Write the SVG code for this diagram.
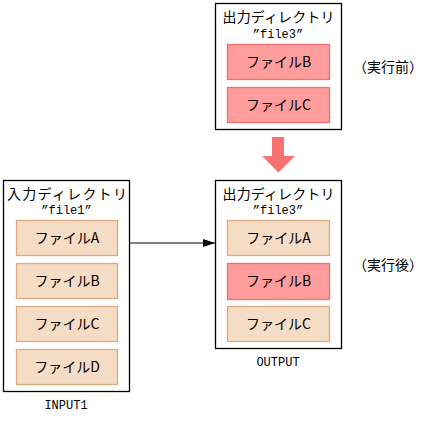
<svg xmlns="http://www.w3.org/2000/svg" width="442" height="421" viewBox="0 0 442 421">
<style>
text{font-family:"Noto Sans CJK JP","DejaVu Sans",sans-serif;font-size:14px;fill:#000}
text.m{font-family:"Liberation Mono","DejaVu Sans Mono",monospace;font-size:12px}
.c{text-anchor:middle}
.dir{fill:#fff;stroke:#000;stroke-width:1.3}
.pe{fill:#F5DCC4;stroke:#DDAA80;stroke-width:1.3}
.rd{fill:#FF9C9C;stroke:#EE7070;stroke-width:1.3}
</style>
<defs>
<marker id="ah" markerWidth="12" markerHeight="8" refX="12" refY="4" orient="auto" markerUnits="userSpaceOnUse">
<path d="M0,0 L12,4 L0,8 Z" fill="#000"/>
</marker>
</defs>
<g id="before">
<rect class="dir" x="215.5" y="3.5" width="126" height="126"/>
<text class="c" x="278.5" y="22" textLength="112">出力ディレクトリ</text>
<text class="c m" x="278" y="38">”file3”</text>
<g id="b-fileB"><rect class="rd" x="227.5" y="44.5" width="102" height="35"/><text class="c" x="278.5" y="67">ファイルB</text></g>
<g id="b-fileC"><rect class="rd" x="227.5" y="87.5" width="102" height="35"/><text class="c" x="278.5" y="110">ファイルC</text></g>
</g>
<text x="353" y="72">（実行前）</text>
<g id="bigarrow"><path d="M272,137 H284 V156 H295 L278.5,172.5 L262,156 H272 Z" fill="#F87272"/></g>
<g id="input1">
<rect class="dir" x="3.5" y="180.5" width="126" height="211"/>
<text class="c" x="67" y="199" textLength="120">入力ディレクトリ</text>
<text class="c m" x="66.5" y="214">”file1”</text>
<g id="i-fileA"><rect class="pe" x="16.5" y="220.5" width="101" height="35"/><text class="c" x="67" y="243">ファイルA</text></g>
<g id="i-fileB"><rect class="pe" x="16.5" y="263.5" width="101" height="35"/><text class="c" x="67" y="286">ファイルB</text></g>
<g id="i-fileC"><rect class="pe" x="16.5" y="306.5" width="101" height="35"/><text class="c" x="67" y="329">ファイルC</text></g>
<g id="i-fileD"><rect class="pe" x="16.5" y="349.5" width="101" height="35"/><text class="c" x="67" y="372">ファイルD</text></g>
<text class="c m" x="66" y="409">INPUT1</text>
</g>
<g id="output">
<rect class="dir" x="215.5" y="180.5" width="126" height="168"/>
<text class="c" x="278.5" y="199" textLength="112">出力ディレクトリ</text>
<text class="c m" x="278" y="214">”file3”</text>
<g id="o-fileA"><rect class="pe" x="227.5" y="220.5" width="102" height="35"/><text class="c" x="278.5" y="243">ファイルA</text></g>
<g id="o-fileB"><rect class="rd" x="227.5" y="263.5" width="102" height="36"/><text class="c" x="278.5" y="286">ファイルB</text></g>
<g id="o-fileC"><rect class="pe" x="227.5" y="306.5" width="102" height="35"/><text class="c" x="278.5" y="329">ファイルC</text></g>
<text class="c m" x="278" y="366">OUTPUT</text>
</g>
<text x="353" y="270">（実行後）</text>
<g id="connectors">
<line x1="130" y1="243" x2="215" y2="243" stroke="#000" stroke-width="1" marker-end="url(#ah)"/>
</g>
</svg>
